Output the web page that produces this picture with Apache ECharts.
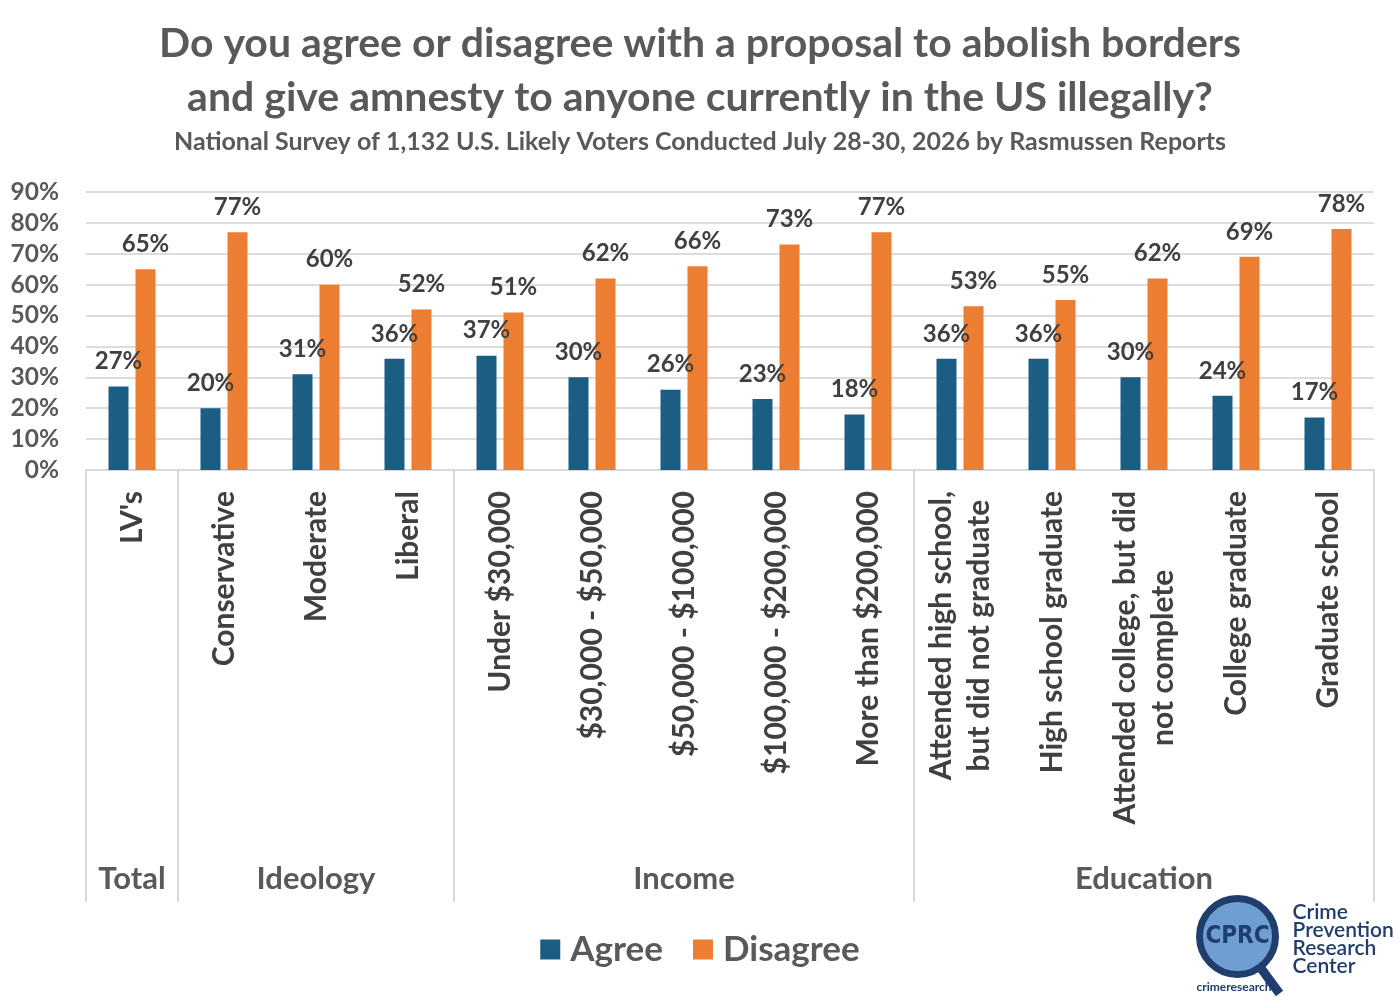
<!DOCTYPE html>
<html>
<head>
<meta charset="utf-8">
<title>Abolish borders and amnesty</title>
<script src="https://cdn.jsdelivr.net/npm/echarts@6/dist/echarts.min.js"></script>
<style>
  html, body { margin: 0; padding: 0; background: #fff; }
  #chart { width: 1400px; height: 997px; }
</style>
</head>
<body>
<div id="chart"></div>
<script>
// categories along the x axis
var categories = [
  "LV's", 'Conservative', 'Moderate', 'Liberal',
  'Under $30,000', '$30,000 - $50,000', '$50,000 - $100,000', '$100,000 - $200,000', 'More than $200,000',
  'Attended high school,\nbut did not graduate', 'High school graduate',
  'Attended college, but did\nnot complete', 'College graduate', 'Graduate school'
];
// group row under the category labels
var groupNames = ['Total', 'Ideology', 'Income', 'Education'];
var groupSizes = [1, 3, 5, 5];

var agree = [27, 20, 31, 36, 37, 30, 26, 23, 18, 36, 36, 30, 24, 17];
var disagree = [65, 77, 60, 52, 51, 62, 66, 73, 77, 53, 55, 62, 69, 78];

var font = 'Lato, "Open Sans", sans-serif';
var grey = '#595959';
var dark = '#404040';

// build group label row (label sits in middle category of each group) and boundary list
var groupRow = [];
var boundaries = [];
var start = 0;
groupNames.forEach(function (name, g) {
  boundaries.push(start);
  for (var i = 0; i < groupSizes[g]; i++) {
    groupRow.push(i === Math.floor((groupSizes[g] - 1) / 2) ? name : '');
  }
  start += groupSizes[g];
});

const chart = echarts.init(document.getElementById('chart'), null, { renderer: 'canvas' });

var barLabel = {
  show: true,
  position: 'top',
  distance: 13,
  formatter: '{c}%',
  color: dark,
  fontFamily: font,
  fontWeight: 'bold',
  fontSize: 24
};

var option = {
  backgroundColor: '#fff',
  title: [{
    text: 'Do you agree or disagree with a proposal to abolish borders\nand give amnesty to anyone currently in the US illegally?',
    left: 'center',
    top: 12,
    textStyle: {
      color: grey,
      fontFamily: font,
      fontWeight: 'bold',
      fontSize: 41,
      lineHeight: 54
    },
    subtext: 'National Survey of 1,132 U.S. Likely Voters Conducted July 28-30, 2026 by Rasmussen Reports',
    itemGap: 4,
    subtextStyle: {
      color: grey,
      fontFamily: font,
      fontWeight: 'bold',
      fontSize: 25
    }
  }],
  legend: {
    data: ['Agree', 'Disagree'],
    left: 'center',
    top: 927,
    itemWidth: 20,
    itemHeight: 20,
    itemGap: 30,
    icon: 'rect',
    textStyle: {
      color: grey,
      fontFamily: font,
      fontWeight: 'bold',
      fontSize: 35,
      padding: [0, 0, 0, 5]
    }
  },
  grid: {
    left: 86,
    right: 26,
    top: 192,
    bottom: 527,
    containLabel: false
  },
  xAxis: [{
    type: 'category',
    data: categories,
    axisLine: { show: true, lineStyle: { color: '#d9d9d9', width: 2 } },
    axisTick: { show: false },
    axisLabel: {
      interval: 0,
      rotate: 90,
      margin: 21,
      color: dark,
      fontFamily: font,
      fontWeight: 'bold',
      fontSize: 30,
      lineHeight: 38,
      formatter: function (v) {
        return v.split('\n').map(function (s) { return '{c|' + s + '}'; }).join('\n');
      },
      rich: {
        c: {
          align: 'center',
          color: dark,
          fontFamily: font,
          fontWeight: 'bold',
          fontSize: 30,
          lineHeight: 38
        }
      }
    }
  }, {
    type: 'category',
    position: 'bottom',
    data: groupRow,
    axisLine: { show: false },
    axisTick: {
      show: true,
      length: 432,
      interval: function (index) { return boundaries.indexOf(index) !== -1; },
      lineStyle: { color: '#d9d9d9', width: 2 }
    },
    axisLabel: {
      interval: 0,
      margin: 393,
      color: grey,
      fontFamily: font,
      fontWeight: 'bold',
      fontSize: 31
    },
    splitLine: { show: false }
  }],
  yAxis: {
    type: 'value',
    min: 0,
    max: 90,
    interval: 10,
    axisLine: { show: false },
    axisTick: { show: false },
    axisLabel: {
      formatter: '{value}%',
      margin: 27,
      color: grey,
      fontFamily: font,
      fontWeight: 'bold',
      fontSize: 24.5
    },
    splitLine: { lineStyle: { color: '#dcdcdc', width: 2 } }
  },
  series: [{
    name: 'Agree',
    type: 'bar',
    data: agree,
    barWidth: 20,
    barGap: '35%',
    itemStyle: { color: '#1c5d84' },
    label: barLabel
  }, {
    name: 'Disagree',
    type: 'bar',
    data: disagree,
    barWidth: 20,
    itemStyle: { color: '#ed7d31' },
    label: barLabel
  }],
  graphic: [{
    type: 'group',
    left: 1196,
    top: 895,
    children: [{
      type: 'line',
      shape: { x1: 62, y1: 70, x2: 84, y2: 100 },
      style: { stroke: '#1f3e6e', lineWidth: 9 }
    }, {
      type: 'circle',
      shape: { cx: 42, cy: 43, r: 38 },
      style: { fill: '#6f9fd2', stroke: '#1f3e6e', lineWidth: 7 }
    }, {
      type: 'text',
      x: 42, y: 43,
      style: {
        text: 'CPRC', fill: '#1f3e6e', align: 'center', verticalAlign: 'middle',
        font: 'bold 24px "DejaVu Sans Condensed", "Liberation Sans Narrow", sans-serif'
      }
    }, {
      type: 'text',
      x: 97, y: 10,
      style: {
        text: 'Crime\nPrevention\nResearch\nCenter', fill: '#1f3e6e',
        font: '600 21px ' + font, lineHeight: 18
      }
    }, {
      type: 'text',
      x: 1, y: 88,
      style: { text: 'crimeresearch', fill: '#1f3e6e', font: 'bold 12px ' + font }
    }]
  }]
};

chart.setOption(option);
</script>
</body>
</html>
